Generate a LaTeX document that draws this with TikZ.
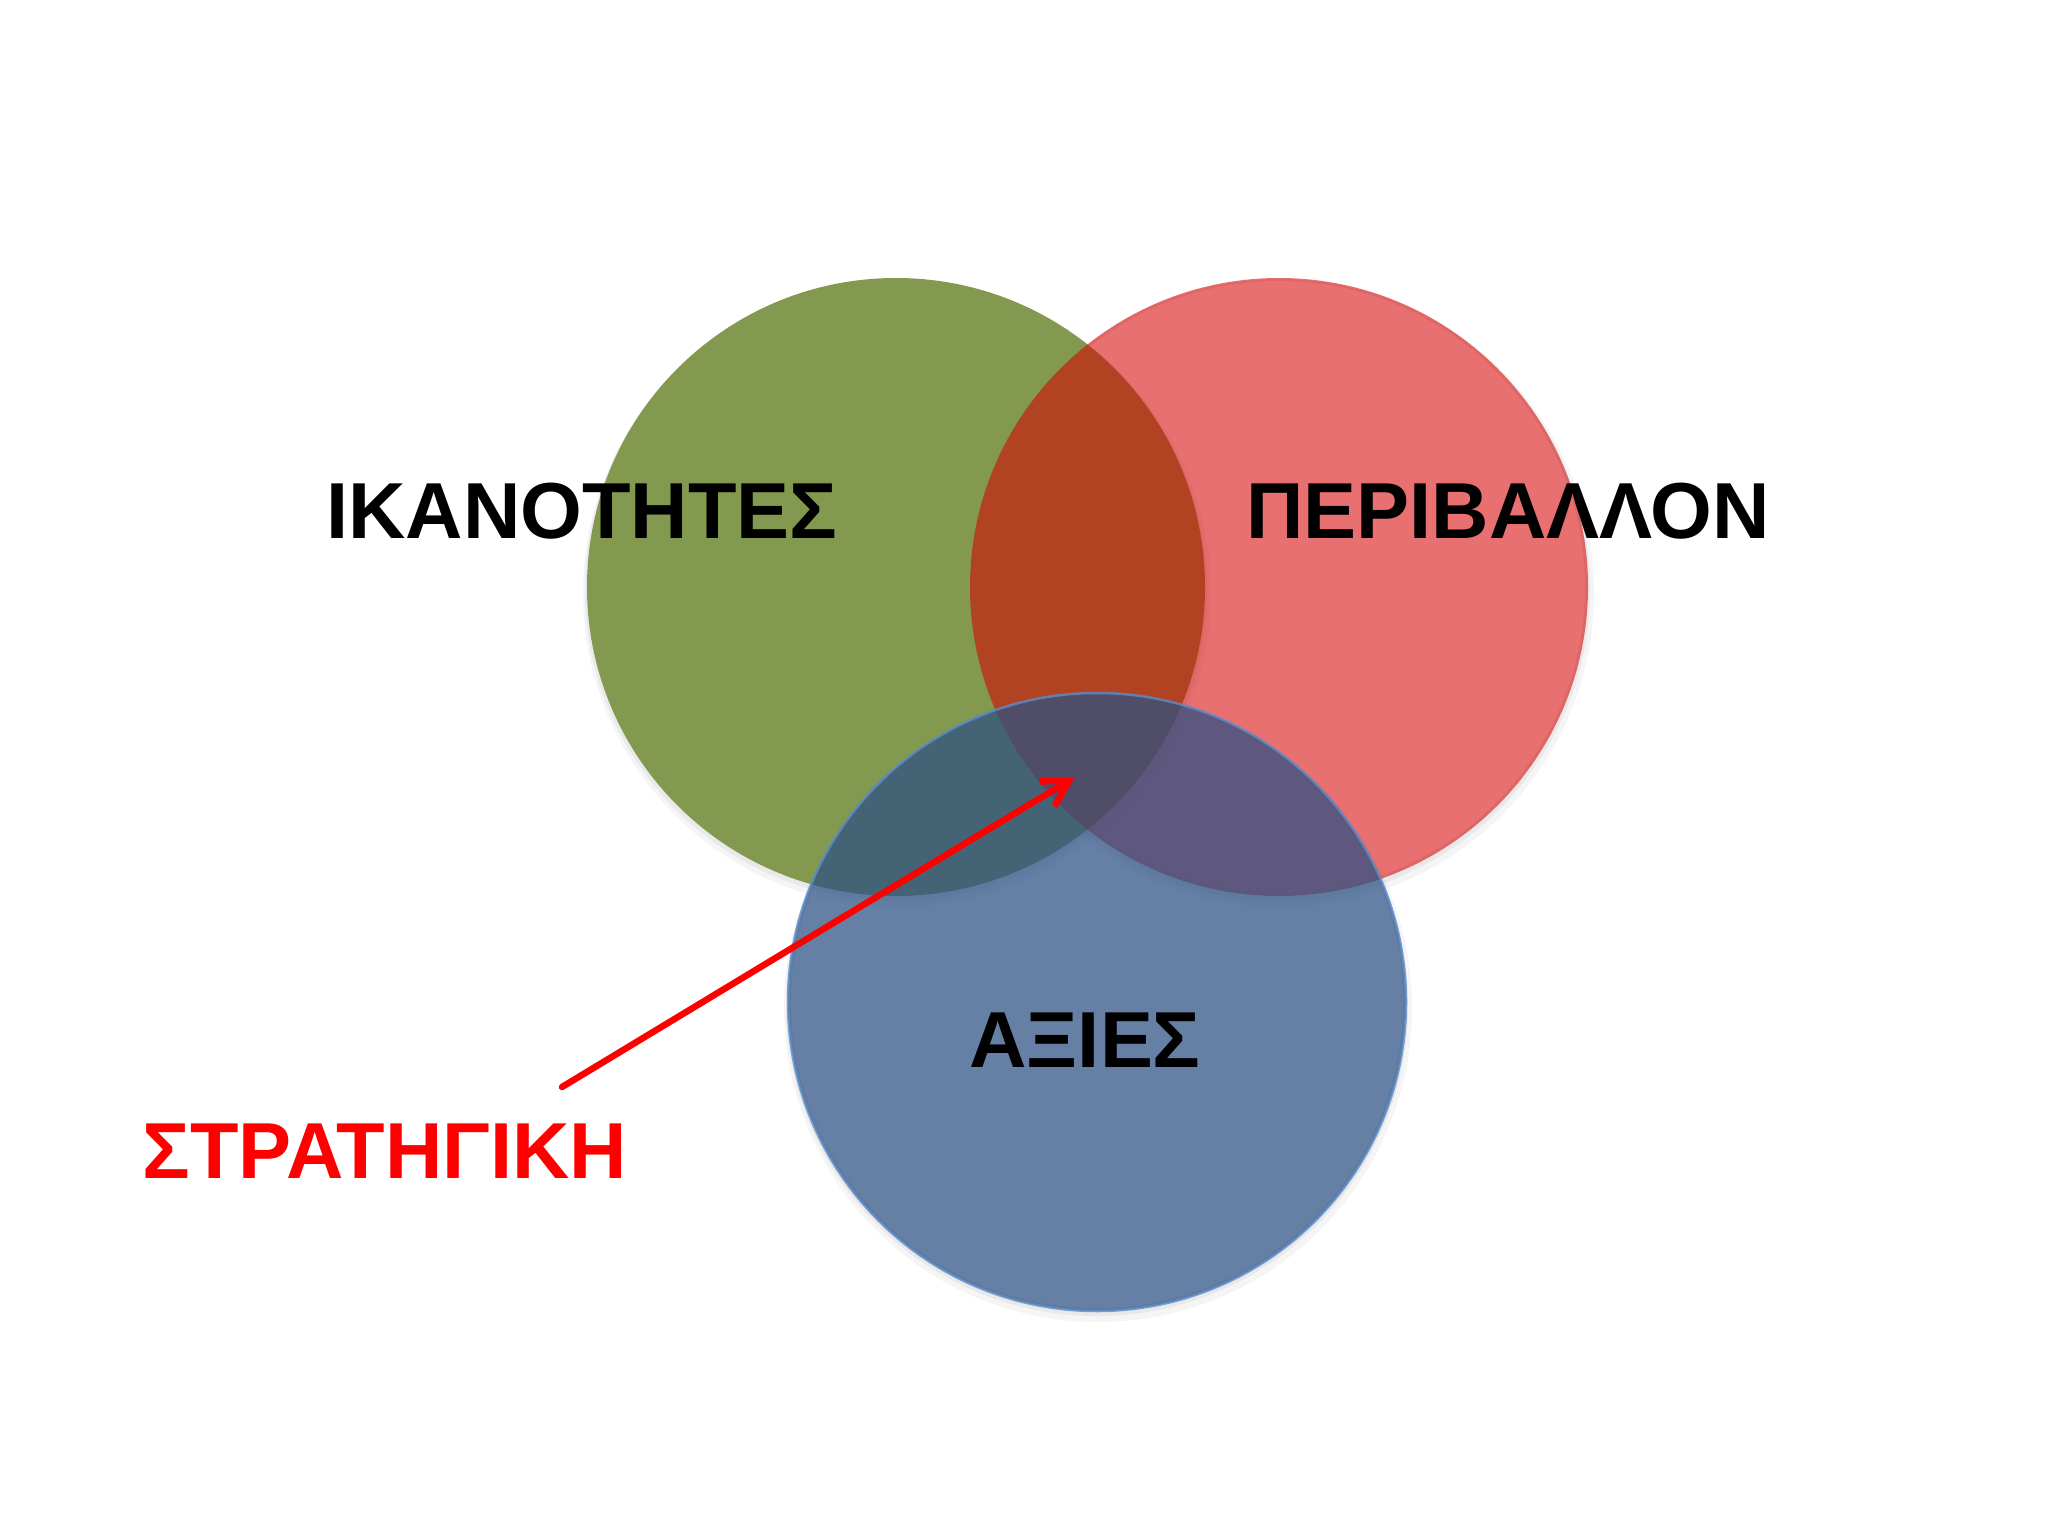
\documentclass[tikz,border=0pt]{standalone}
\usepackage{fontspec}
\setmainfont{Liberation Sans}
\usetikzlibrary{arrows.meta}

\definecolor{ikagreen}{RGB}{130,153,79}
\definecolor{perired}{RGB}{214,0,0}
\definecolor{axiblue}{RGB}{45,81,132}
\definecolor{axirim}{RGB}{92,140,200}
\definecolor{strared}{RGB}{255,0,0}

\begin{document}
\begin{tikzpicture}[x=0.1mm, y=0.1mm, line join=round, line cap=round,
    lbl/.style={font=\fontsize{22.6}{28}\selectfont\bfseries, inner sep=0pt, anchor=base},
    halo/.style={fill=black, even odd rule},
    pointer/.style={draw=strared, line width=0.65mm, -{Straight Barb[length=2.6mm, width=2.9mm]}}]

        \useasboundingbox (0,0) rectangle (2048,1536);

        % Soft shadows round the circles
        \foreach \x/\y in {896/949, 1279/949, 1097/534} {
            \fill[halo, opacity=0.04] (\x+1,\y-6) circle (314) (\x,\y) circle (306);
            \fill[halo, opacity=0.05] (\x,\y-3) circle (311) (\x,\y) circle (306);
        }

        % Circles
        \fill[ikagreen] (896,949) circle (309);
        \fill[perired, opacity=0.56] (1279,949) circle (309);
        \fill[axiblue, fill opacity=0.73, draw=axirim, draw opacity=0.8, line width=0.25mm] (1097,534) circle (309);

        % Labels
        \node[lbl] (ikanotites) at (582,998) {ΙΚΑΝΟΤΗΤΕΣ};
        \node[lbl] (perivallon) at (1508,998) {ΠΕΡΙΒΑΛΛΟΝ};
        \node[lbl] (axies) at (1085,469) {ΑΞΙΕΣ};
        \node[lbl, text=strared] (stratigiki) at (385,358) {ΣΤΡΑΤΗΓΙΚΗ};

        % Arrow to the middle
        \coordinate (strat-tail) at (562,449);
        \coordinate (strat-tip) at (1075,759);
        \draw[pointer] (strat-tail) -- (strat-tip);

\end{tikzpicture}
\end{document}
